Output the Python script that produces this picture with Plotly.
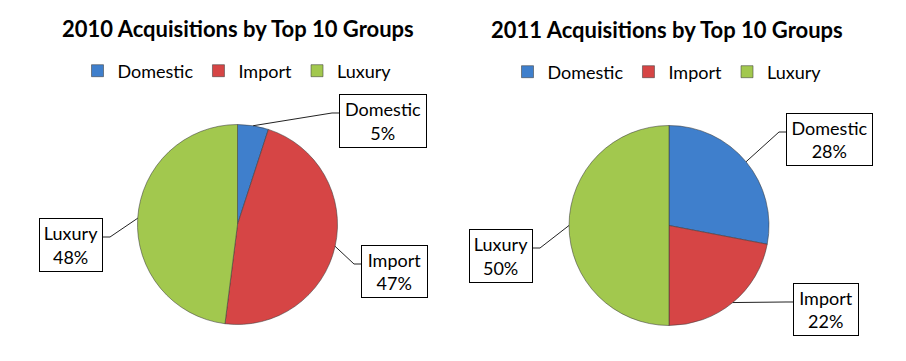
import math
import plotly.graph_objects as go

W, H = 906, 361

# ---- data ----
categories = ["Domestic", "Import", "Luxury"]
values_2010 = [5, 47, 48]
values_2011 = [28, 22, 50]
titles = ["2010 Acquisitions by Top 10 Groups", "2011 Acquisitions by Top 10 Groups"]

# ---- styles ----
colors = ["#3F7FCC", "#D64545", "#A2C84E"]
FONT = "Lato"

# ---- layout (pixels) ----
charts = [
    dict(values=values_2010, title=titles[0], cx=237.5, cy=224.5, r=100,
         title_x=238, title_y=28, legend_x=237, legend_y=71, legend="legend", tag="",
         boxes={"Domestic": (339, 94, 88, 54, "left"),
                "Import": (361, 245, 67, 53, "left"),
                "Luxury": (39, 218, 64, 54, "right")}),
    dict(values=values_2011, title=titles[1], cx=669, cy=225.5, r=100,
         title_x=667, title_y=30, legend_x=667, legend_y=72, legend="legend2", tag="\u200b",
         boxes={"Domestic": (786, 113, 87, 53, "left"),
                "Import": (793, 283, 66, 53, "left"),
                "Luxury": (469, 229, 64, 54, "right")}),
]


def px(x):
    return x / W


def py(y):
    return 1 - y / H


fig = go.Figure()
annotations = []
shapes = []
layout_legends = {}

for ch in charts:
    cx, cy, r = ch["cx"], ch["cy"], ch["r"]
    vals = ch["values"]
    fig.add_trace(go.Pie(
        labels=[c + ch["tag"] for c in categories], values=vals, sort=False,
        direction="clockwise", rotation=0, textinfo="none", hoverinfo="label+percent",
        marker=dict(colors=colors, line=dict(color="rgba(60,60,60,0.55)", width=1)),
        domain=dict(x=[px(cx - r), px(cx + r)], y=[py(cy + r), py(cy - r)]),
        legend=ch["legend"], showlegend=True,
    ))
    layout_legends[ch["legend"]] = dict(
        orientation="h", x=px(ch["legend_x"]), y=py(ch["legend_y"]),
        xanchor="center", yanchor="middle",
        font=dict(family=FONT, size=18, color="#000"),
        bgcolor="rgba(0,0,0,0)", itemwidth=30, tracegroupgap=0,
    )
    annotations.append(dict(
        text="<b>%s</b>" % ch["title"], x=px(ch["title_x"]), y=py(ch["title_y"]),
        xref="paper", yref="paper", xanchor="center", yanchor="middle",
        showarrow=False, font=dict(family=FONT, size=22, color="#000"),
    ))
    total = sum(vals)
    cum = 0
    for cat, v in zip(categories, vals):
        theta = math.radians(360 * (cum + v / 2) / total)
        cum += v
        ex = cx + r * math.sin(theta)
        ey = cy - r * math.cos(theta)
        left, top, bw, bh, side = ch["boxes"][cat]
        pct = round(100 * v / total)
        annotations.append(dict(
            text="%s<br>%d%%" % (cat, pct),
            x=px(left + bw / 2), y=py(top + bh / 2), xref="paper", yref="paper",
            xanchor="center", yanchor="middle", showarrow=False,
            width=bw - 6, height=bh - 6, align="center", valign="middle",
            bordercolor="#000", borderwidth=1, borderpad=2, bgcolor="#fff",
            font=dict(family=FONT, size=18, color="#000"),
        ))
        ay_ = top + 19
        if side == "left":
            axp = left
            elx = axp - 7
        else:
            axp = left + bw
            elx = axp + 7
        path = "M %f %f L %f %f L %f %f" % (px(ex), py(ey), px(elx), py(ay_), px(axp), py(ay_))
        shapes.append(dict(type="path", path=path, xref="paper", yref="paper",
                           line=dict(color="#222", width=1)))

fig.update_layout(
    width=W, height=H, margin=dict(l=0, r=0, t=0, b=0),
    paper_bgcolor="#fff", plot_bgcolor="#fff",
    annotations=annotations, shapes=shapes,
    font=dict(family=FONT),
    **layout_legends,
)

fig.write_html("out.html", config={"displayModeBar": False},
               post_script="document.body.style.margin='0';document.body.style.padding='0';")
